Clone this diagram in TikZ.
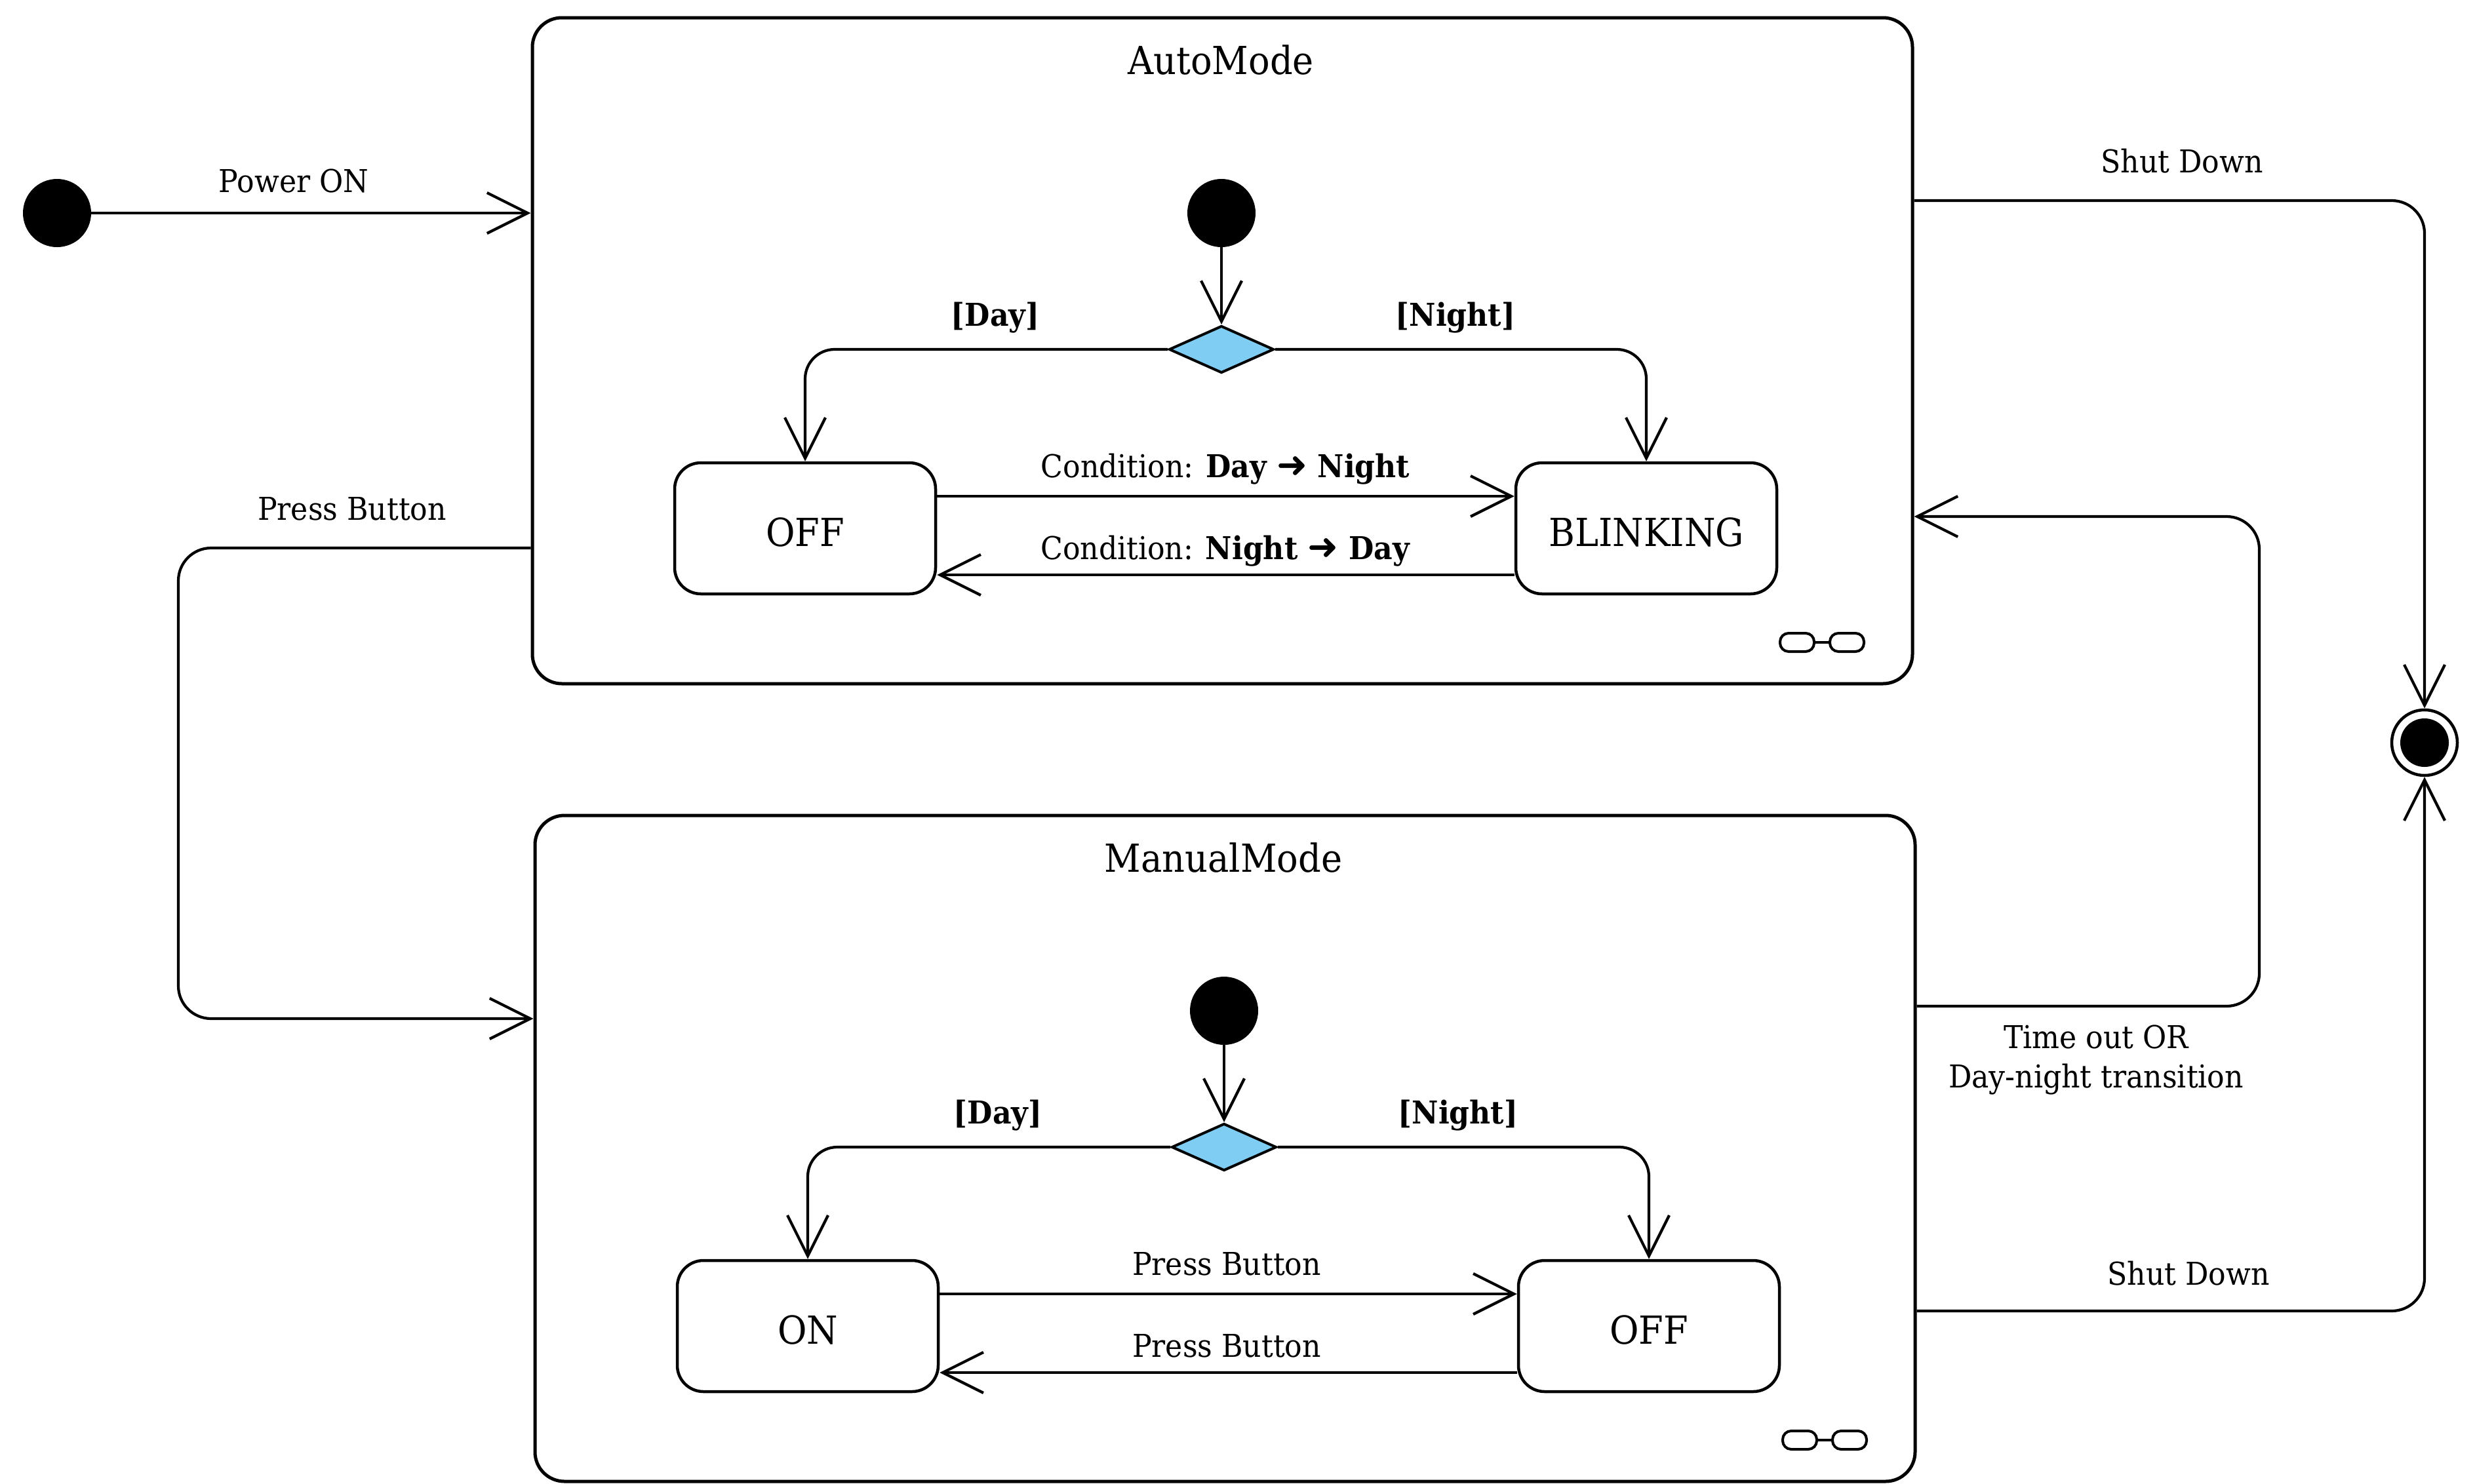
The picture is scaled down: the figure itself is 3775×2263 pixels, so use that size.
\documentclass[tikz,border=0pt]{standalone}
\usepackage{fontspec}
\setmainfont{DejaVu Serif}[FakeStretch=0.92]
\newfontfamily\symfont{DejaVu Sans}
\usetikzlibrary{arrows.meta,shapes.geometric,calc}
\definecolor{decblue}{HTML}{7FCDF2}
\newcommand{\bigfnt}{\fontsize{59}{70}\selectfont}
\newcommand{\lblfnt}{\fontsize{48}{62}\selectfont}
\newcommand{\heavyarrow}{{\symfont\bfseries\fontsize{56}{62}\selectfont ➜}}
\begin{document}
\begin{tikzpicture}[x=1pt,y=-1pt,
  modebox/.style={draw, line width=5pt, rounded corners=45pt, inner sep=0pt,
    minimum width=2105pt, minimum height=1016pt},
  stbox/.style={draw, line width=4.5pt, rounded corners=40pt, inner sep=0pt,
    minimum width=398pt, minimum height=200pt, font=\bigfnt,
    text height=54pt, text depth=0pt},
  title/.style={anchor=base, font=\bigfnt, inner sep=0pt},
  lbl/.style={anchor=base, font=\lblfnt, inner sep=0pt},
  blbl/.style={anchor=base, font=\lblfnt\bfseries, inner sep=0pt},
  initdot/.style={circle, fill=black, inner sep=0pt, minimum size=104pt},
  decision/.style={diamond, draw, fill=decblue, line width=4pt, inner sep=0pt,
    minimum width=160pt, minimum height=72pt},
  pill/.style={draw, line width=4pt, rounded corners=13pt, inner sep=0pt,
    minimum width=52pt, minimum height=28pt},
  trans/.style={draw, line width=4.2pt,
    -{Straight Barb[length=62pt, width=62pt]}},
]
\useasboundingbox (0,0) rectangle (3775,2263);

% ---------- outer level ----------
\node[initdot] (init) at (87,325) {};
\node[modebox] (auto) at (1864.5,535) {};
\node[modebox] (manual) at (1868.5,1752) {};
\node[circle, draw, line width=4.5pt, inner sep=0pt, minimum size=100pt] (final) at (3698,1133) {};
\node[circle, fill=black, inner sep=0pt, minimum size=74pt] (finalin) at (final) {};

\node[title] (autotitle) at (1862,113) {AutoMode};
\node[title] (mantitle) at (1866,1330) {ManualMode};

% Power ON
\draw[trans] (init) -- (init -| auto.west);
\node[lbl] (lpower) at (448,293) {Power ON};

% Shut Down (top)
\coordinate (ysd1) at (0,306);
\draw[trans, rounded corners=50pt] (auto.east |- ysd1) -| (final.north);
\node[lbl] (lsd1) at (3328,263) {Shut Down};

% Shut Down (bottom)
\coordinate (ysd2) at (0,2000);
\draw[trans, rounded corners=50pt] (manual.east |- ysd2) -| (final.south);
\node[lbl] (lsd2) at (3338,1960) {Shut Down};

% Time out
\coordinate (yto1) at (0,1535);
\coordinate (yto2) at (0,788);
\coordinate (wto1) at (3446,1535);
\coordinate (wto2) at (3446,788);
\draw[trans, rounded corners=50pt] (manual.east |- yto1) -- (wto1) -- (wto2) -- (auto.east |- yto2);
\node[lbl] (lto1) at (3197,1599) {Time out OR};
\node[lbl] (lto2) at (3197,1659) {Day-night transition};

% Press Button (left)
\coordinate (ypb1) at (0,836);
\coordinate (ypb2) at (0,1554);
\coordinate (wpb1) at (272,836);
\coordinate (wpb2) at (272,1554);
\draw[trans, rounded corners=50pt] (auto.west |- ypb1) -- (wpb1) -- (wpb2) -- (manual.west |- ypb2);
\node[lbl] (lpb) at (537,793) {Press Button};

% ---------- AutoMode contents ----------
\node[initdot] (ainit) at (1863,325) {};
\node[decision] (adec) at (1863,533) {};
\node[stbox] (aoff) at (1228,806) {OFF};
\node[stbox] (ablink) at (2511,806) {BLINKING};
\draw[trans] (ainit) -- (adec.north);
\draw[trans, rounded corners=45pt] (adec.west) -| (aoff.north);
\draw[trans, rounded corners=45pt] (adec.east) -| (ablink.north);
\node[blbl] (aday) at (1518,497) {[Day]};
\node[blbl] (anight) at (2220,497) {[Night]};
\coordinate (ya1) at (0,757);
\coordinate (ya2) at (0,877);
\draw[trans] (aoff.east |- ya1) -- (ablink.west |- ya1);
\draw[trans] (ablink.west |- ya2) -- (aoff.east |- ya2);
\node[lbl] (ac1) at (1869,728) {Condition: \textbf{Day \heavyarrow{} Night}};
\node[lbl] (ac2) at (1869,853) {Condition: \textbf{Night \heavyarrow{} Day}};
\node[pill] (ap1) at (2741,980) {};
\node[pill] (ap2) at (2817,980) {};
\draw[line width=4pt] (ap1) -- (ap2);

% ---------- ManualMode contents ----------
\node[initdot] (minit) at (1867,1542) {};
\node[decision] (mdec) at (1867,1750) {};
\node[stbox] (mon) at (1232,2023) {ON};
\node[stbox] (moff) at (2515,2023) {OFF};
\draw[trans] (minit) -- (mdec.north);
\draw[trans, rounded corners=45pt] (mdec.west) -| (mon.north);
\draw[trans, rounded corners=45pt] (mdec.east) -| (moff.north);
\node[blbl] (mday) at (1522,1714) {[Day]};
\node[blbl] (mnight) at (2224,1714) {[Night]};
\coordinate (ym1) at (0,1974);
\coordinate (ym2) at (0,2094);
\draw[trans] (mon.east |- ym1) -- (moff.west |- ym1);
\draw[trans] (moff.west |- ym2) -- (mon.east |- ym2);
\node[lbl] (mc1) at (1871,1945) {Press Button};
\node[lbl] (mc2) at (1871,2070) {Press Button};
\node[pill] (mp1) at (2745,2197) {};
\node[pill] (mp2) at (2821,2197) {};
\draw[line width=4pt] (mp1) -- (mp2);
\end{tikzpicture}
\end{document}
